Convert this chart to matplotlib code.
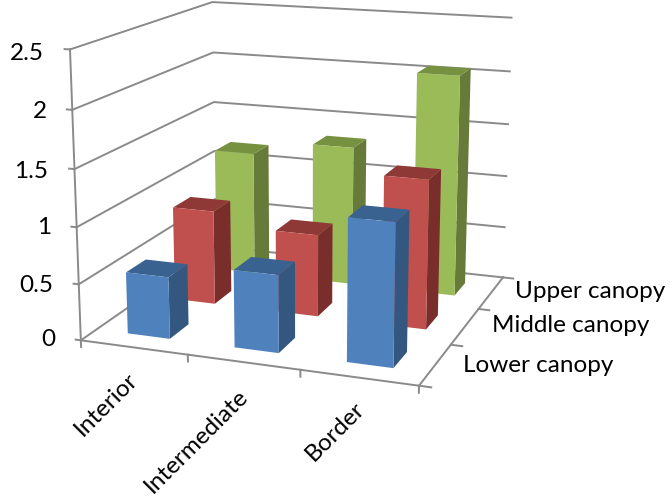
import numpy as np
import matplotlib
matplotlib.use('Agg')
import matplotlib.pyplot as plt

locations = ['Interior', 'Intermediate', 'Border']
canopies = ['Lower canopy', 'Middle canopy', 'Upper canopy']
lower_canopy = [0.55, 0.68, 1.23]
middle_canopy = [0.87, 0.75, 1.34]
upper_canopy = [1.18, 1.32, 2.06]
z_ticks = [0, 0.5, 1, 1.5, 2, 2.5]
z_labels = ['0', '0.5', '1', '1.5', '2', '2.5']

W, H = 670, 499
GRID = '#8a8a8a'
BAR = 0.4
# front, side and top shades per series
shades = [('#4f81bd', '#33577f', '#3a6291'),
          ('#c0504d', '#7a2e2c', '#8f3937'),
          ('#9bbb59', '#667a3a', '#76913f')]

plt.rcParams['font.family'] = ['Lato', 'DejaVu Sans']

fig = plt.figure(figsize=(W/100, H/100), dpi=100)
size = 534.27
ax = fig.add_axes([30.02/W, 51.80/H, size/W, size/H], projection='3d', computed_zorder=False)
ax.set_xlim(0, 3, view_margin=0)
ax.set_ylim(0, 3, view_margin=0)
ax.set_zlim(0, 2.5, view_margin=0)
ax.view_init(14.2437, -69.9881)
ax.set_proj_type('persp', focal_length=0.5413)
ax.set_box_aspect((3.5756, 3.4972, 2.9988))
ax.set_axis_off()

def line(xs, ys, zs):
    ax.plot(xs, ys, zs, color=GRID, lw=1.4, zorder=1, clip_on=False)

# gridlines along the side and back walls
for z in z_ticks:
    line([0, 0, 3], [0, 3, 3], [z, z, z])
    line([-0.05, 0], [0, 0], [z, z])

# floor outline and axis ticks
line([0, 0], [0, 0], [0, 2.5])
line([0, 3, 3], [0, 0, 3], [0, 0, 0])
for i in range(4):
    line([i, i], [0, 0], [0, -0.06])
    line([3, 3.1], [i, i], [0, 0])

# bars go back to front, left to right
hidden = (0, 0, 0, 0)
zo = 2
for row, values in reversed(list(enumerate([lower_canopy, middle_canopy, upper_canopy]))):
    front, side, top = shades[row]
    for col, val in enumerate(values):
        # faces: bottom, top, front, back, left, right
        ax.bar3d(col + 0.3, row + 0.3, 0, BAR, BAR, val,
                 color=[hidden, top, front, hidden, hidden, side],
                 shade=False, linewidth=0, zorder=zo)
        zo += 1

def label(x, y, s, **kw):
    fig.text(x/W, 1 - y/H, s, fontsize=17.5, color='black', **kw)

right_edges = [55, 53, 51, 48, 46.5, 44]
label_rows = [340, 285, 228, 171, 112, 53]
for s, x, y in zip(z_labels, right_edges, label_rows):
    label(x, y, s, ha='right', va='center')

for s, x, y in zip(locations, [106, 196, 335], [404, 441, 431]):
    label(x, y, s, ha='center', va='center', rotation=45, rotation_mode='anchor')

for s, x, y in zip(canopies, [463, 492, 515], [365, 326, 292]):
    label(x, y, s, ha='left', va='center')

fig.savefig('out.png', dpi=100)
